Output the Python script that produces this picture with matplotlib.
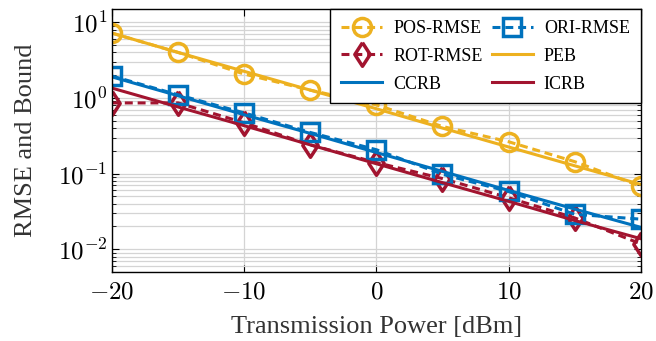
import numpy as np
import matplotlib
matplotlib.use('Agg')
import matplotlib.pyplot as plt
from matplotlib.ticker import FuncFormatter, LogLocator, NullFormatter

plt.rcParams['font.family'] = ['Liberation Serif', 'DejaVu Serif']
plt.rcParams['mathtext.fontset'] = 'cm'

power = [-20, -15, -10, -5, 0, 5, 10, 15, 20]

pos_rmse = [7.2, 4.0, 2.07, 1.27, 0.81, 0.42, 0.264, 0.144, 0.068]
peb = [7.2, 4.0, 2.25, 1.27, 0.72, 0.40, 0.225, 0.127, 0.072]
ori_rmse = [1.95, 1.1, 0.635, 0.35, 0.207, 0.098, 0.058, 0.029, 0.025]
ccrb = [1.9, 1.07, 0.60, 0.34, 0.19, 0.107, 0.060, 0.034, 0.0195]
rot_rmse = [0.86, 0.86, 0.47, 0.24, 0.14, 0.086, 0.048, 0.026, 0.0118]
icrb = [1.35, 0.76, 0.43, 0.24, 0.135, 0.076, 0.043, 0.024, 0.0138]

c_pos = '#EDB120'
c_ori = '#0072BD'
c_rot = '#A2142F'

# diamond a bit wider than matplotlib's thin 'd'
diamond = [(0, 1), (0.65, 0), (0, -1), (-0.65, 0), (0, 1)]

fig = plt.figure(figsize=(6.56, 3.41), dpi=100)
ax = fig.add_axes([0.1707, 0.2023, 0.806, 0.7713])

lw = 2.2
dash = (2.6, 1.6)
h_pos, = ax.plot(power, pos_rmse, color=c_pos, lw=lw, dashes=dash, marker='o', ms=13,
                 mfc='none', mew=2.5, label='POS-RMSE')
h_rot, = ax.plot(power, rot_rmse, color=c_rot, lw=lw, dashes=dash, marker=diamond, ms=17,
                 mfc='none', mew=2.5, label='ROT-RMSE')
h_ccrb, = ax.plot(power, ccrb, color=c_ori, lw=lw, label='CCRB')
h_ori, = ax.plot(power, ori_rmse, color=c_ori, lw=lw, dashes=dash, marker='s', ms=13,
                 mfc='none', mew=2.5, label='ORI-RMSE')
h_peb, = ax.plot(power, peb, color=c_pos, lw=lw, label='PEB')
h_icrb, = ax.plot(power, icrb, color=c_rot, lw=lw, label='ICRB')

ax.set_yscale('log')
ax.set_xlim(-20, 20)
ax.set_ylim(5e-3, 15)
ax.set_xticks([-20, -10, 0, 10, 20])
ax.xaxis.set_major_formatter(FuncFormatter(lambda v, p: '$%d$' % v))
ax.yaxis.set_major_locator(LogLocator(base=10, numticks=10))
ax.yaxis.set_minor_locator(LogLocator(base=10, subs=np.arange(2, 10), numticks=10))
ax.yaxis.set_major_formatter(FuncFormatter(lambda v, p: '$10^{%d}$' % round(np.log10(v))))
ax.yaxis.set_minor_formatter(NullFormatter())

ax.grid(True, which='major', color='#d4d4d4', lw=0.9)
ax.grid(True, which='minor', axis='y', color='#d4d4d4', lw=0.9)
ax.set_axisbelow(True)
ax.tick_params(which='both', direction='in', top=True, right=True, labelsize=18)
ax.tick_params(axis='x', pad=7)
ax.tick_params(which='major', length=5)
ax.tick_params(which='minor', length=3)
for s in ax.spines.values():
    s.set_linewidth(1.0)

ax.set_xlabel('Transmission Power [dBm]', fontsize=19, color='#333333', labelpad=9)
ax.set_ylabel('RMSE and Bound', fontsize=19, color='#333333', labelpad=15)

leg = ax.legend(handles=[h_pos, h_rot, h_ccrb, h_ori, h_peb, h_icrb], ncol=2,
                loc='upper right', borderaxespad=0, fontsize=13, fancybox=False,
                framealpha=1, edgecolor='black', handlelength=2.3, borderpad=0.6,
                columnspacing=0.5, handletextpad=0.6, labelspacing=0.6)
leg.get_frame().set_linewidth(1.0)

fig.savefig('out.png', dpi=100)
